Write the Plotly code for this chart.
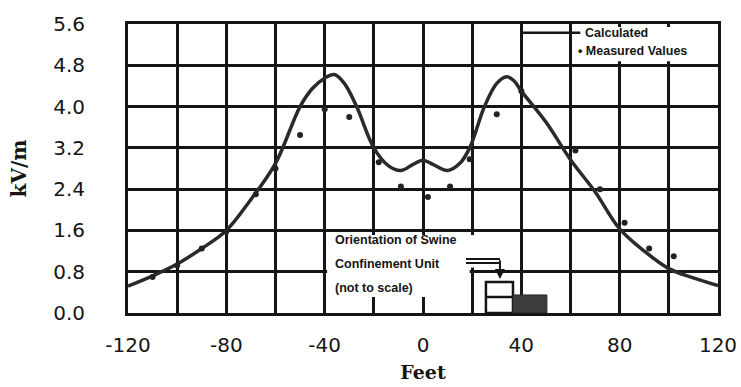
import plotly.graph_objects as go

# ---- data ----
calc_feet = [-120, -110, -100, -90, -80, -70, -60, -50, -45, -40, -36, -32, -27, -20, -14, -9, -4, 0,
             4, 10, 15, 19, 25, 30, 34, 37, 40, 50, 60, 70, 80, 90, 100, 110, 120]
calc_kv = [0.52, 0.72, 0.95, 1.25, 1.6, 2.2, 2.9, 4.0, 4.35, 4.55, 4.62, 4.45, 4.0, 3.2, 2.85, 2.76, 2.88, 2.96,
           2.88, 2.76, 2.9, 3.2, 4.0, 4.45, 4.58, 4.5, 4.3, 3.7, 2.97, 2.35, 1.63, 1.2, 0.86, 0.68, 0.53]

meas_feet = [-110, -100, -90, -80, -68, -60, -50, -40, -30, -18, -9, 2, 11, 19, 30, 40, 62, 72, 82, 92, 102]
meas_kv = [0.7, 0.92, 1.25, 1.58, 2.3, 2.8, 3.45, 3.95, 3.8, 2.92, 2.45, 2.25, 2.45, 2.98, 3.85, 4.3,
           3.15, 2.4, 1.75, 1.25, 1.1]

x_tick_vals = [-120, -100, -80, -60, -40, -20, 0, 20, 40, 60, 80, 100, 120]
x_tick_text = ["-120", "", "-80", "", "-40", "", "0", "", "40", "", "80", "", "120"]
y_tick_vals = [0.0, 0.8, 1.6, 2.4, 3.2, 4.0, 4.8, 5.6]
y_tick_text = ["0.0", "0.8", "1.6", "2.4", "3.2", "4.0", "4.8", "5.6"]

INK = "#151515"

fig = go.Figure()
fig.add_trace(go.Scatter(x=calc_feet, y=calc_kv, mode="lines", name="Calculated",
                         line=dict(color="#2a2a2a", width=3.5, shape="spline", smoothing=1.0),
                         showlegend=False))
fig.add_trace(go.Scatter(x=meas_feet, y=meas_kv, mode="markers", name="Measured Values",
                         marker=dict(color="#222", size=6), showlegend=False))

shapes = []
# legend white box + line sample
shapes.append(dict(type="rect", xref="x", yref="y", x0=63, x1=117.5, y0=4.88, y1=5.54,
                   fillcolor="white", line=dict(width=0), layer="above"))
shapes.append(dict(type="line", xref="x", yref="y", x0=40.3, x1=64, y0=5.43, y1=5.43,
                   line=dict(color=INK, width=2.5), layer="above"))
# orientation text box
shapes.append(dict(type="rect", xref="x", yref="y", x0=-39.0, x1=19.0, y0=0.31, y1=1.51,
                   fillcolor="white", line=dict(width=0), layer="above"))
shapes.append(dict(type="rect", xref="x", yref="y", x0=18.9, x1=21.5, y0=0.88, y1=1.51,
                   fillcolor="white", line=dict(width=0), layer="above"))
# double-line pointer
for yy in (1.046, 0.969):
    shapes.append(dict(type="line", xref="x", yref="y", x0=17.5, x1=31.3, y0=yy, y1=yy,
                       line=dict(color=INK, width=2), layer="above"))
# building sketch
shapes.append(dict(type="rect", xref="x", yref="y", x0=25.6, x1=36.6, y0=0.0, y1=0.6,
                   fillcolor="white", line=dict(color=INK, width=2.5), layer="above"))
shapes.append(dict(type="line", xref="x", yref="y", x0=25.6, x1=36.6, y0=0.31, y1=0.31,
                   line=dict(color=INK, width=2.5), layer="above"))
shapes.append(dict(type="rect", xref="x", yref="y", x0=36.6, x1=50.4, y0=0.0, y1=0.35,
                   fillcolor="#3c3c3c", line=dict(color="#2a2a2a", width=1), layer="above"))

annotations = [
    dict(x=65.1, y=5.43, xref="x", yref="y", text="<b>Calculated</b>", showarrow=False, xanchor="left",
         yanchor="middle", font=dict(family="Liberation Sans", size=12.5, color=INK)),
    dict(x=62.4, y=5.08, xref="x", yref="y", text="<b>• Measured Values</b>", showarrow=False,
         xanchor="left", yanchor="middle", font=dict(family="Liberation Sans", size=12.5, color=INK)),
    dict(x=-36.6, y=1.41, xref="x", yref="y", text="<b>Orientation of Swine</b>", showarrow=False,
         xanchor="left", yanchor="middle", font=dict(family="Liberation Sans", size=12.5, color=INK)),
    dict(x=-36.6, y=0.94, xref="x", yref="y", text="<b>Confinement Unit</b>", showarrow=False,
         xanchor="left", yanchor="middle", font=dict(family="Liberation Sans", size=12.5, color=INK)),
    dict(x=-36.6, y=0.48, xref="x", yref="y", text="<b>(not to scale)</b>", showarrow=False,
         xanchor="left", yanchor="middle", font=dict(family="Liberation Sans", size=12.5, color=INK)),
    dict(x=31.3, y=0.66, ax=31.3, ay=1.05, xref="x", yref="y", axref="x", ayref="y", text="",
         showarrow=True, arrowhead=2, arrowsize=1, arrowwidth=2, arrowcolor=INK),
]

fig.update_layout(
    width=741, height=387,
    margin=dict(l=128, r=23, t=24, b=74, autoexpand=False),
    paper_bgcolor="white", plot_bgcolor="white",
    showlegend=False,
    shapes=shapes, annotations=annotations,
    font=dict(family="DejaVu Sans", color=INK),
)
fig.update_xaxes(range=[-120, 120], tickvals=x_tick_vals, ticktext=x_tick_text,
                 showgrid=True, gridcolor=INK, gridwidth=2.5, zeroline=False,
                 showline=True, linecolor=INK, linewidth=3, mirror=True, automargin=False,
                 ticks="", ticklabelstandoff=12,
                 tickfont=dict(family="DejaVu Sans", size=20, color=INK),
                 title=dict(text="<b>Feet</b>", standoff=10,
                            font=dict(family="DejaVu Serif", size=19, color=INK)))
fig.update_yaxes(range=[0, 5.6], tickvals=y_tick_vals, ticktext=y_tick_text,
                 showgrid=True, gridcolor=INK, gridwidth=2.5, zeroline=False,
                 showline=True, linecolor=INK, linewidth=3, mirror=True, automargin=False,
                 ticks="", ticklabelstandoff=36,
                 tickfont=dict(family="DejaVu Sans", size=20, color=INK),
                 title=dict(text="<b>kV/m</b>", standoff=22,
                            font=dict(family="DejaVu Serif", size=20, color=INK)))

fig.write_html("out.html", config={"displayModeBar": False},
               post_script="document.body.style.margin='0';")
